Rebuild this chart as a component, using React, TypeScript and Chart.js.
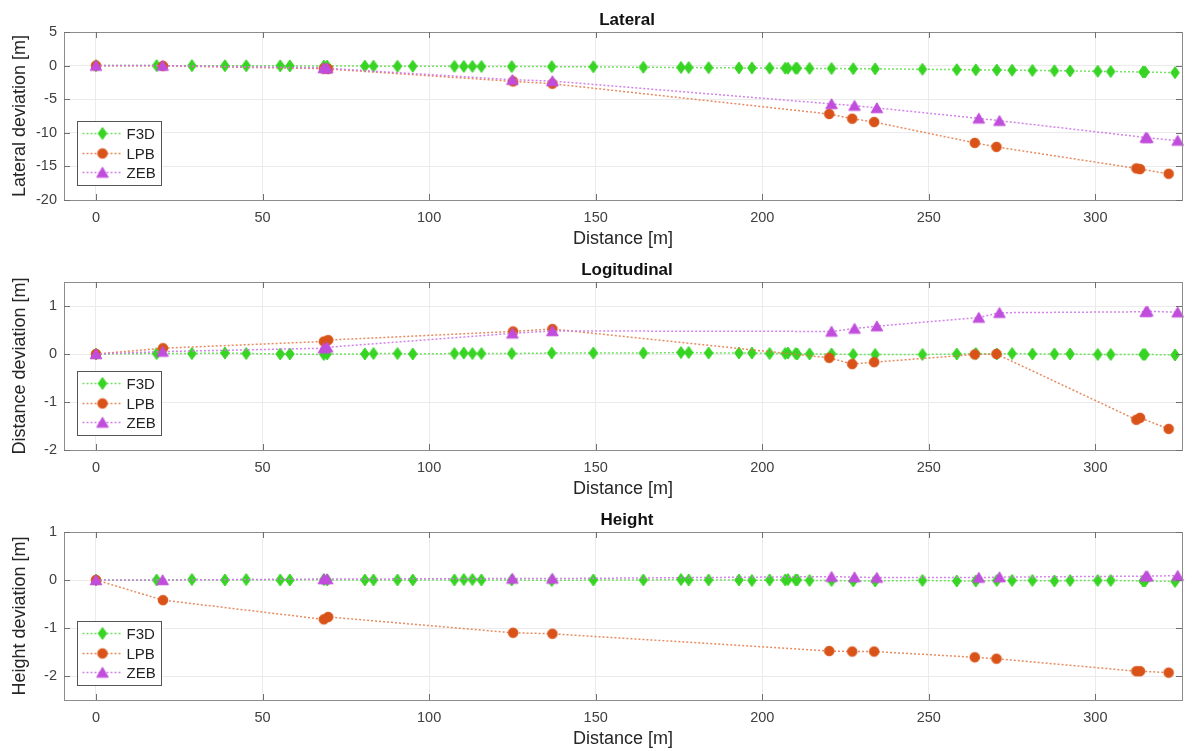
import React, { useEffect, useRef } from 'react';
import { Chart, registerables } from 'chart.js';

Chart.register(...registerables);

// ---------- data ----------
const SERIES_NAMES = ['F3D', 'LPB', 'ZEB'];

const F3D_X = [0, 18.2, 28.8, 38.7, 45.1, 55.3, 58.2, 68.4, 69.4, 80.7, 83.3, 90.5, 95.1, 107.6, 110.4, 113.0, 115.7, 124.8, 136.8, 149.3, 164.3, 175.6, 177.9, 183.9, 193.0, 196.9, 202.2, 206.9, 207.7, 210.0, 210.5, 214.2, 220.8, 227.3, 233.9, 248.1, 258.4, 264.1, 270.4, 275.0, 281.1, 287.7, 292.4, 300.7, 304.6, 314.3, 314.9, 323.9];
const F3D_LAT = [0, 0, -0.01, -0.02, -0.03, -0.04, -0.05, -0.06, -0.06, -0.07, -0.08, -0.09, -0.1, -0.11, -0.12, -0.12, -0.13, -0.14, -0.15, -0.18, -0.25, -0.28, -0.29, -0.31, -0.34, -0.35, -0.37, -0.39, -0.39, -0.4, -0.4, -0.42, -0.44, -0.46, -0.48, -0.55, -0.6, -0.63, -0.66, -0.69, -0.72, -0.76, -0.79, -0.85, -0.88, -0.95, -0.96, -1.05];
const F3D_LON = [0, 0.01, 0.01, 0.02, 0.01, 0, 0, -0.01, 0, 0, 0.01, 0.01, 0, 0.01, 0.02, 0.01, 0.01, 0.01, 0.02, 0.02, 0.02, 0.03, 0.03, 0.02, 0.02, 0.02, 0.01, 0.01, 0.02, 0.01, 0, 0, 0, -0.01, -0.01, -0.01, 0, 0.01, 0, 0.01, 0, 0, 0, -0.01, -0.01, -0.01, -0.01, -0.02];
const F3D_H = [0, 0, 0.01, 0, 0.01, 0, 0, 0.01, 0, 0, 0, 0, 0, 0, 0.01, 0.01, 0, 0, -0.01, 0, 0, 0.01, 0, 0, 0, -0.01, 0, 0, 0.01, 0, 0, -0.01, -0.01, -0.02, -0.02, -0.01, -0.02, -0.02, -0.01, -0.01, -0.01, -0.02, -0.01, -0.01, -0.01, -0.02, -0.02, -0.03];

const LPB_X = [0, 20.1, 68.4, 69.7, 125.2, 137.0, 220.1, 227.0, 233.6, 263.8, 270.3, 312.3, 313.4, 322.0];
const LPB_LAT = [0, -0.05, -0.45, -0.5, -2.35, -2.7, -7.2, -7.9, -8.4, -11.5, -12.1, -15.3, -15.4, -16.1];
const LPB_LON = [0, 0.12, 0.26, 0.29, 0.47, 0.52, -0.08, -0.21, -0.17, -0.01, 0, -1.37, -1.33, -1.56];
const LPB_H = [0, -0.42, -0.82, -0.77, -1.1, -1.12, -1.48, -1.49, -1.49, -1.61, -1.64, -1.9, -1.9, -1.93];

const ZEB_X = [0, 20.0, 68.4, 69.4, 125.0, 137.0, 220.8, 227.7, 234.4, 265.0, 271.2, 315.1, 315.6, 324.7];
const ZEB_LAT = [0, 0, -0.35, -0.4, -2.1, -2.3, -5.7, -5.95, -6.3, -7.85, -8.2, -10.7, -10.75, -11.15];
const ZEB_LON = [0, 0.05, 0.12, 0.14, 0.43, 0.48, 0.47, 0.53, 0.58, 0.76, 0.86, 0.88, 0.89, 0.87];
const ZEB_H = [0, 0, 0.02, 0.02, 0.03, 0.03, 0.07, 0.06, 0.05, 0.05, 0.06, 0.08, 0.08, 0.09];

const X_TICKS = [0, 50, 100, 150, 200, 250, 300];
const LAT_TICKS = [-20, -15, -10, -5, 0, 5];
const LON_TICKS = [-2, -1, 0, 1];
const H_TICKS = [-2, -1, 0, 1];

const PANELS = [
  { title: 'Lateral', ylabel: 'Lateral deviation [m]', ymin: -20, ymax: 5, yticks: LAT_TICKS, f3d: F3D_LAT, lpb: LPB_LAT, zeb: ZEB_LAT },
  { title: 'Logitudinal', ylabel: 'Distance deviation [m]', ymin: -2, ymax: 1.5, yticks: LON_TICKS, f3d: F3D_LON, lpb: LPB_LON, zeb: ZEB_LON },
  { title: 'Height', ylabel: 'Height deviation [m]', ymin: -2.5, ymax: 1, yticks: H_TICKS, f3d: F3D_H, lpb: LPB_H, zeb: ZEB_H },
];

// ---------- styles ----------
const FONT = '"Liberation Sans", Arial, Helvetica, sans-serif';
const COLORS = ['#37d424', '#d95319', '#c04ddb'];
const LINE_COLORS = ['rgba(90,220,70,0.85)', 'rgba(226,120,70,0.85)', 'rgba(205,120,230,0.9)'];
const KINDS = ['diamond', 'circle', 'triangle'];

function markerCanvas(kind: string, color: string): HTMLCanvasElement {
  const c = document.createElement('canvas');
  c.width = 14;
  c.height = 14;
  const ctx = c.getContext('2d')!;
  ctx.fillStyle = color;
  ctx.strokeStyle = color;
  ctx.lineWidth = 1;
  ctx.beginPath();
  if (kind === 'diamond') {
    ctx.moveTo(7, 1);
    ctx.lineTo(11.3, 7);
    ctx.lineTo(7, 13);
    ctx.lineTo(2.7, 7);
    ctx.closePath();
  } else if (kind === 'circle') {
    ctx.arc(7, 7, 4.8, 0, Math.PI * 2);
  } else {
    ctx.moveTo(7, 1.8);
    ctx.lineTo(12.8, 11.8);
    ctx.lineTo(1.2, 11.8);
    ctx.closePath();
  }
  ctx.fill();
  ctx.stroke();
  return c;
}

function makeFramePlugin(title: string, markers: HTMLCanvasElement[]) {
  return {
    id: 'frame_' + title,
    afterDraw(chart: any) {
      const { ctx, chartArea } = chart;
      const { left, right, top, bottom } = chartArea;
      const xs = chart.scales.x;
      const ys = chart.scales.y;
      ctx.save();
      // box
      ctx.strokeStyle = '#8c8c8c';
      ctx.lineWidth = 1;
      ctx.strokeRect(Math.round(left) + 0.5, Math.round(top) + 0.5, Math.round(right - left), Math.round(bottom - top));
      // inward ticks
      ctx.strokeStyle = '#707070';
      ctx.beginPath();
      X_TICKS.forEach((v) => {
        const px = Math.round(xs.getPixelForValue(v)) + 0.5;
        ctx.moveTo(px, bottom);
        ctx.lineTo(px, bottom - 6);
        ctx.moveTo(px, top);
        ctx.lineTo(px, top + 6);
      });
      ys.ticks.forEach((t: any) => {
        const py = Math.round(ys.getPixelForValue(t.value)) + 0.5;
        ctx.moveTo(left, py);
        ctx.lineTo(left + 6, py);
        ctx.moveTo(right, py);
        ctx.lineTo(right - 6, py);
      });
      ctx.stroke();
      // title
      ctx.fillStyle = '#111';
      ctx.font = 'bold 17px ' + FONT;
      ctx.textAlign = 'center';
      ctx.textBaseline = 'middle';
      ctx.fillText(title, (left + right) / 2 + 4, 20);
      // legend
      const bx = Math.round(left) + 13.5;
      const by = Math.round(bottom) - 78.5;
      ctx.fillStyle = '#fff';
      ctx.fillRect(bx, by, 84, 64);
      ctx.strokeStyle = '#555';
      ctx.strokeRect(bx, by, 84, 64);
      const rows = [12, 32, 51];
      SERIES_NAMES.forEach((name, i) => {
        const yy = by + rows[i];
        ctx.save();
        ctx.strokeStyle = LINE_COLORS[i];
        ctx.lineWidth = 1.5;
        ctx.setLineDash([2, 2]);
        ctx.beginPath();
        ctx.moveTo(bx + 5, yy);
        ctx.lineTo(bx + 45, yy);
        ctx.stroke();
        ctx.restore();
        ctx.drawImage(markers[i], bx + 25 - 7, yy - 7);
        ctx.fillStyle = '#222';
        ctx.font = '15px ' + FONT;
        ctx.textAlign = 'left';
        ctx.textBaseline = 'middle';
        ctx.fillText(name, bx + 49, yy + 1);
      });
      ctx.restore();
    },
  };
}

function Panel({ idx, height }: { idx: number; height: number }) {
  const ref = useRef<HTMLCanvasElement | null>(null);
  useEffect(() => {
    const p = PANELS[idx];
    const markers = KINDS.map((k, i) => markerCanvas(k, COLORS[i]));
    const xsList = [F3D_X, LPB_X, ZEB_X];
    const ysList = [p.f3d, p.lpb, p.zeb];
    const datasets = SERIES_NAMES.map((name, i) => ({
      label: name,
      data: xsList[i].map((x, j) => ({ x, y: ysList[i][j] })),
      showLine: true,
      borderColor: LINE_COLORS[i],
      backgroundColor: COLORS[i],
      borderWidth: 1.5,
      borderDash: [2, 2],
      pointStyle: markers[i],
      pointRadius: 6,
      pointHoverRadius: 6,
      clip: false,
      order: 3 - i,
    }));
    const chart = new Chart(ref.current!, {
      type: 'scatter',
      data: { datasets } as any,
      plugins: [makeFramePlugin(p.title, markers)],
      options: {
        animation: false,
        responsive: false,
        devicePixelRatio: 1,
        layout: { padding: { top: 32, right: 10, left: 0, bottom: 0 } },
        plugins: { legend: { display: false }, tooltip: { enabled: false }, title: { display: false } },
        scales: {
          x: {
            type: 'linear',
            min: -9.6,
            max: 326,
            afterBuildTicks: (s: any) => {
              s.ticks = X_TICKS.map((v) => ({ value: v }));
            },
            afterFit: (s: any) => {
              s.height = 50;
            },
            grid: { color: '#ebebeb', drawTicks: false },
            border: { display: false },
            ticks: { color: '#404040', font: { family: FONT, size: 14.5 }, padding: 9, maxRotation: 0, autoSkip: false },
            title: { display: true, text: 'Distance [m]', color: '#262626', font: { family: FONT, size: 18 }, padding: { top: 0, bottom: 0 } },
          },
          y: {
            type: 'linear',
            min: p.ymin,
            max: p.ymax,
            afterBuildTicks: (s: any) => {
              s.ticks = p.yticks.map((v) => ({ value: v }));
            },
            afterFit: (s: any) => {
              s.width = 64;
            },
            grid: { color: '#ebebeb', drawTicks: false },
            border: { display: false },
            ticks: { color: '#404040', font: { family: FONT, size: 14.5 }, padding: 7, autoSkip: false },
            title: { display: true, text: p.ylabel, color: '#262626', font: { family: FONT, size: 18 }, padding: { top: 9, bottom: 0 } },
          },
        },
      } as any,
    });
    return () => chart.destroy();
  }, [idx]);
  return (
    <canvas
      ref={ref}
      width={1192}
      height={height}
      style={{ position: 'absolute', left: 0, top: idx * 250, width: 1192, height }}
    />
  );
}

export default function App() {
  return (
    <div style={{ position: 'absolute', left: 0, top: 0, width: 1192, height: 751, background: '#fff', overflow: 'hidden' }}>
      <Panel idx={0} height={250} />
      <Panel idx={1} height={250} />
      <Panel idx={2} height={250} />
    </div>
  );
}
